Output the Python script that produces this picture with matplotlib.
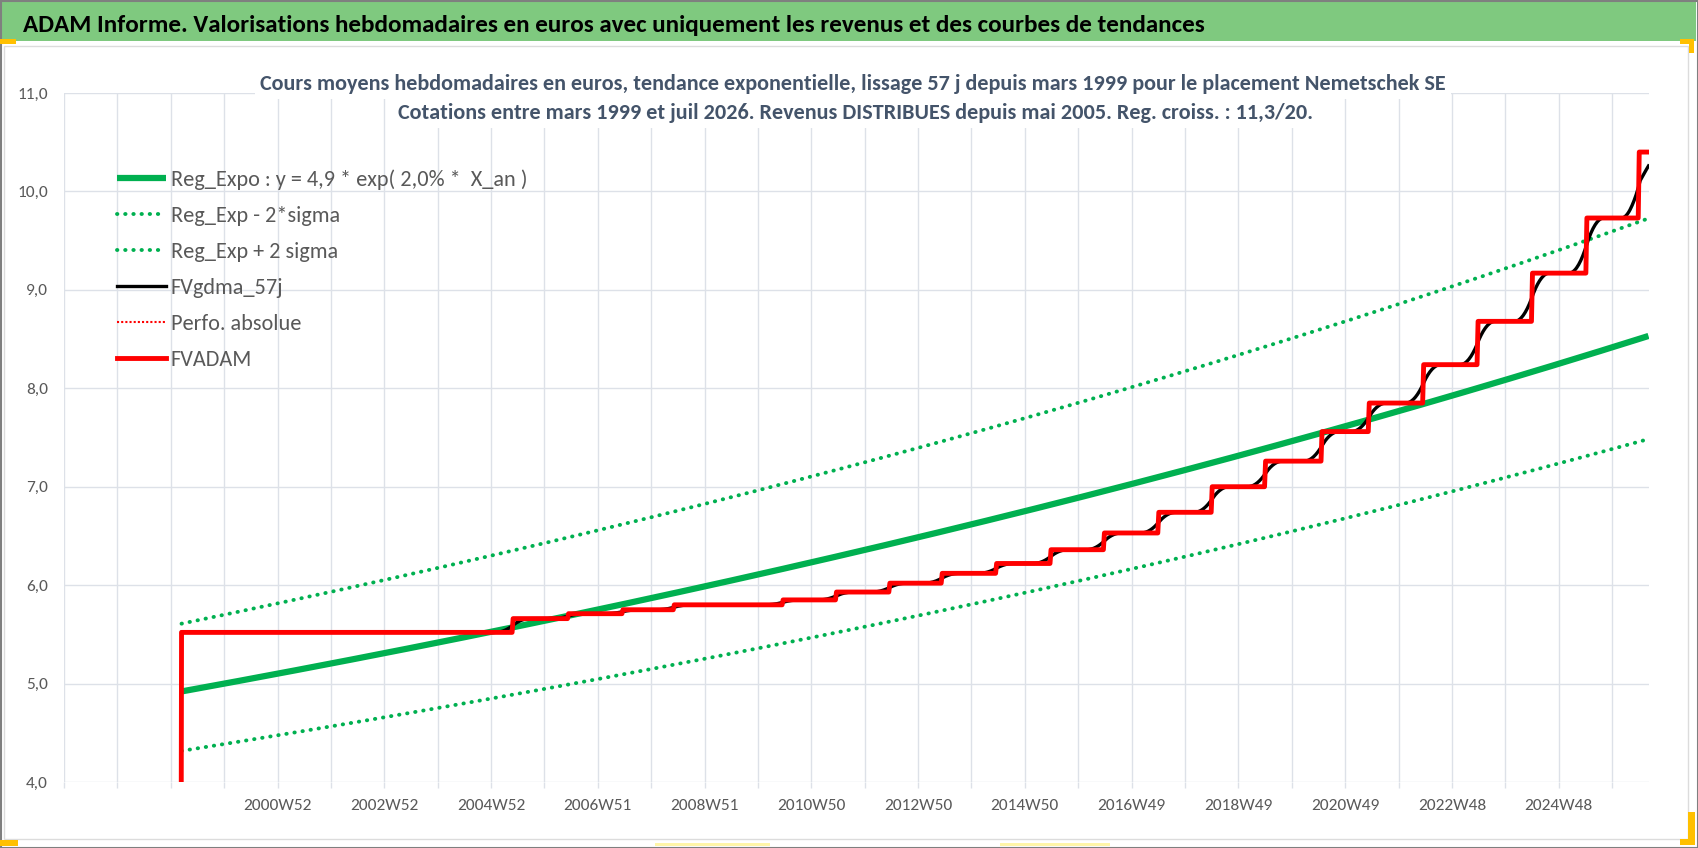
# %%
# ADAM Informe - Nemetschek SE, valorisations hebdomadaires (revenus + tendances)
import numpy as np
import pandas as pd
import matplotlib.pyplot as plt
from matplotlib.patches import Rectangle

# %%
# axe des categories : une categorie par semaine
axis_start = "1996-12-30"
n_weeks = 1544
first_quote = "1999-03-08"

# FVADAM : paliers (date du changement, niveau)
step_dates = ["1999-03-08", "2005-05-16", "2006-05-29", "2007-06-04", "2008-05-19",
              "2010-05-31", "2011-05-30", "2012-05-28", "2013-05-20", "2014-05-26",
              "2015-06-01", "2016-05-30", "2017-06-05", "2018-06-04", "2019-06-03",
              "2020-06-22", "2021-05-10", "2022-05-16", "2023-05-22", "2024-05-27",
              "2025-06-02", "2026-05-25"]
step_levels = [5.52, 5.66, 5.71, 5.75, 5.80,
               5.85, 5.93, 6.02, 6.12, 6.22,
               6.36, 6.53, 6.74, 7.00, 7.26,
               7.56, 7.85, 8.24, 8.68, 9.17,
               9.73, 10.40]

# regression exponentielle (legende : y = 4,9 * exp(2,0% * X_an)) et bande 2 sigma (log)
reg_a = 4.92
reg_b = 0.0201
two_sigma = 0.131
smooth_window = 17

tick_labels = ["2000W52", "2002W52", "2004W52", "2006W51", "2008W51", "2010W50", "2012W50",
               "2014W50", "2016W49", "2018W49", "2020W49", "2022W48", "2024W48"]

legend_labels = ["Reg_Expo : y = 4,9 * exp( 2,0% *  X_an )", "Reg_Exp - 2*sigma",
                 "Reg_Exp + 2 sigma", "FVgdma_57j", "Perfo. absolue", "FVADAM"]

title = ("ADAM Informe. Valorisations hebdomadaires en euros avec uniquement "
         "les revenus et des courbes de tendances")
sub1 = ("Cours moyens hebdomadaires en euros, tendance exponentielle, lissage 57 j "
        "depuis mars 1999 pour le placement Nemetschek SE")
sub2 = ("Cotations entre mars 1999 et juil 2026. Revenus DISTRIBUES depuis mai 2005. "
        "Reg. croiss. : 11,3/20.")

# %%
plt.rcParams["font.family"] = ["Carlito", "DejaVu Sans"]

# %%
weeks = pd.date_range(axis_start, periods=n_weeks, freq="7D")
start = pd.Timestamp(axis_start)
def week_idx(d):
    return (pd.Timestamp(d) - start).days // 7

i0 = week_idx(first_quote)
xs = np.arange(n_weeks) + 0.5

fvadam = np.full(n_weeks, np.nan)
for d, v in zip(step_dates, step_levels):
    fvadam[week_idx(d):] = v
fvadam[i0 - 1] = 0.0

# lissage (moyenne mobile centree, deux passes)
smooth = pd.Series(fvadam[i0:]).rolling(smooth_window, center=True, min_periods=1).mean()
smooth = smooth.rolling(smooth_window, center=True, min_periods=1).mean()
fvgdma = np.full(n_weeks, np.nan)
fvgdma[i0:] = smooth.values

x_an = (weeks - pd.Timestamp(first_quote)).days / 365.25
reg = np.where(np.arange(n_weeks) >= i0, reg_a * np.exp(reg_b * x_an), np.nan)
reg_lo = reg * np.exp(-two_sigma)
reg_hi = reg * np.exp(two_sigma)

# %%
W, H = 1698, 848
fig = plt.figure(figsize=(W / 100, H / 100), dpi=100)

def px_rect(x0, y0, x1, y1, **kw):
    fig.add_artist(Rectangle((x0 / W, 1 - y1 / H), (x1 - x0) / W, (y1 - y0) / H,
                             transform=fig.transFigure, **kw))

px_rect(2, 2, 1696, 41, facecolor="#7fc97f", edgecolor="none")
px_rect(4, 46, 1688, 839, facecolor="none", edgecolor="#dcdcdc", lw=1)
px_rect(0.5, 0.5, 1697.5, 847.5, facecolor="none", edgecolor="#7f7f7f", lw=1.5)
orange = "#ffc000"
px_rect(0, 39, 16, 44, facecolor=orange, edgecolor="none")
px_rect(0, 840, 18, 846, facecolor=orange, edgecolor="none")
px_rect(1680, 39, 1694, 44, facecolor=orange, edgecolor="none")
px_rect(1689, 39, 1694, 53, facecolor=orange, edgecolor="none")
px_rect(1688, 812, 1695, 845, facecolor=orange, edgecolor="none")
px_rect(1680, 839, 1695, 845, facecolor=orange, edgecolor="none")
px_rect(655, 843, 770, 846, facecolor="#fff5a8", edgecolor="none")
px_rect(1000, 843, 1110, 846, facecolor="#fff5a8", edgecolor="none")

ax = fig.add_axes([64 / W, 1 - 782 / H, (1649 - 64) / W, (782 - 93) / H])
grid_c = "#dde1e8"
green = "#00b050"
dot = (0, (0.1, 2.0))

ax.plot(xs, reg, color=green, lw=4.5, solid_capstyle="butt", label=legend_labels[0])
ax.plot(xs, reg_lo, color=green, lw=2.8, ls=dot, dash_capstyle="round", label=legend_labels[1])
ax.plot(xs, reg_hi, color=green, lw=2.8, ls=dot, dash_capstyle="round", label=legend_labels[2])
ax.plot(xs, fvgdma, color="black", lw=2.4, label=legend_labels[3])
ax.plot([], [], color="red", lw=1.5, ls=(0, (1, 1)), label=legend_labels[4])
ax.plot(xs, fvadam, color="red", lw=3.5, label=legend_labels[5])

ax.set_xlim(0, n_weeks)
ax.set_ylim(4, 11)
ticks = np.arange(0, n_weeks, 52)
labels = [""] * len(ticks)
for j, t in enumerate(tick_labels):
    labels[4 + 2 * j] = t
ax.set_xticks(ticks)
ax.set_xticklabels(labels)
yt = np.arange(4, 11.01, 1)
ax.set_yticks(yt)
ax.set_yticklabels([f"{v:.1f}".replace(".", ",") for v in yt])
ax.tick_params(axis="x", length=4.3, width=1, color=grid_c, pad=8,
               labelsize=12.5, labelcolor="#595959")
ax.tick_params(axis="y", length=0, pad=11.5, labelsize=12.5, labelcolor="#595959")
ax.grid(True, color=grid_c, lw=1.0)
ax.set_axisbelow(True)
for s in ax.spines.values():
    s.set_visible(False)

ax.legend(loc="upper left", bbox_to_anchor=(117 / W, 1 - 169 / H), bbox_transform=fig.transFigure,
          frameon=False, fontsize=16, handlelength=2.2, handletextpad=0.22,
          labelspacing=0.72, borderpad=0, borderaxespad=0, labelcolor="#595959")

# %%
t0 = fig.text(23 / W, 1 - 32 / H, title, fontsize=19, fontweight="bold", color="black",
              ha="left", va="baseline")
bb = dict(facecolor="white", edgecolor="none", pad=3)
t1 = fig.text(853 / W, 1 - 90 / H, sub1, fontsize=13, fontweight="bold", color="#44546a",
              ha="center", va="baseline", bbox=bb)
t2 = fig.text(856 / W, 1 - 119 / H, sub2, fontsize=13, fontweight="bold", color="#44546a",
              ha="center", va="baseline", bbox=bb)

fig.canvas.draw()
w = t0.get_window_extent().width
t0.set_fontsize(t0.get_fontsize() * 1182 / w)
w = t1.get_window_extent().width
t1.set_fontsize(t1.get_fontsize() * 1186 / w)
t2.set_fontsize(t1.get_fontsize())

fig.savefig("out.png", dpi=100)
